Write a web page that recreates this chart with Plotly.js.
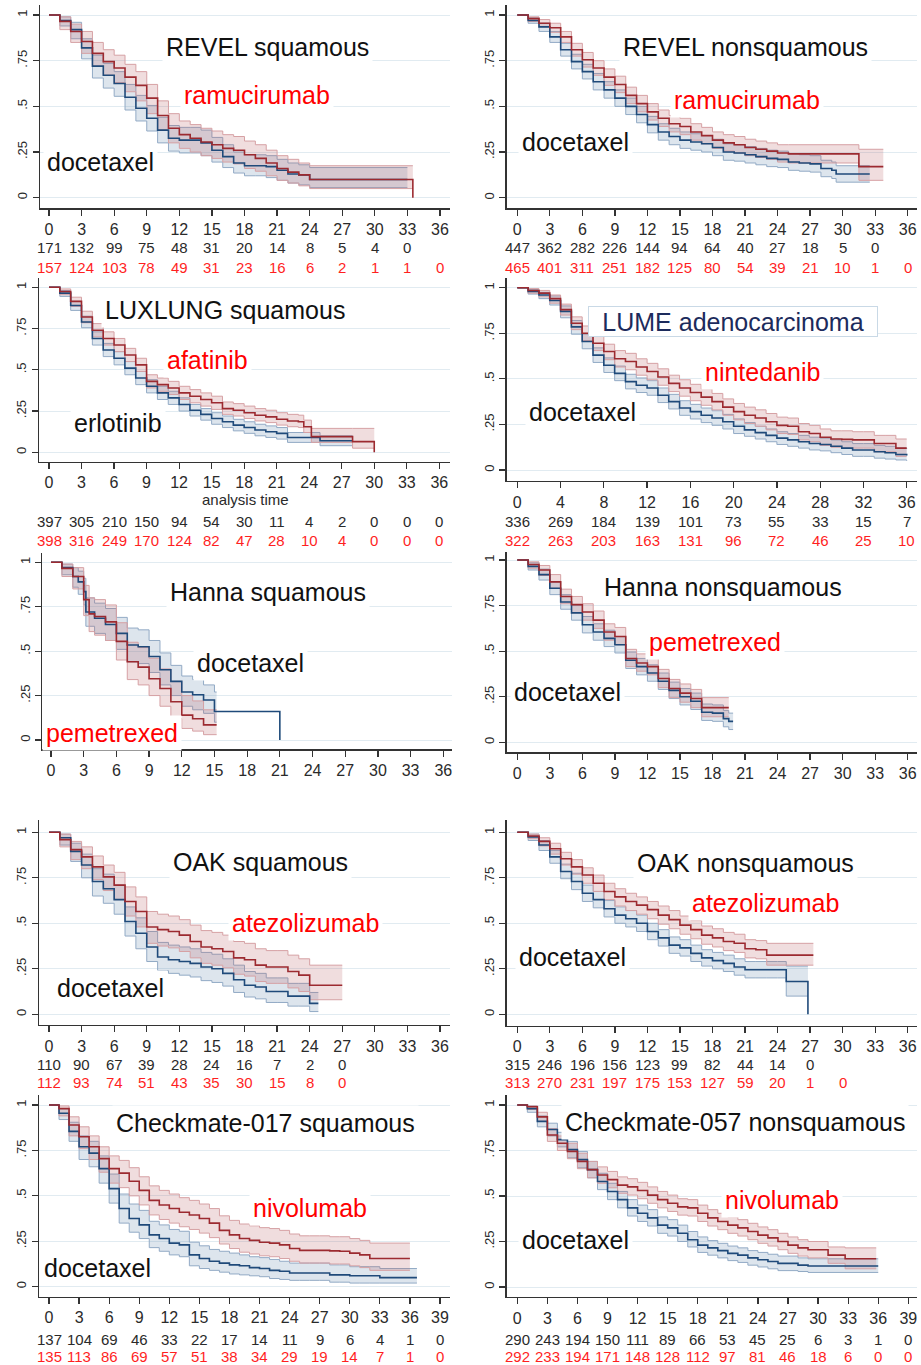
<!DOCTYPE html>
<html><head><meta charset="utf-8">
<script src="https://cdn.plot.ly/plotly-3.0.1.min.js"></script>
<style>html,body{margin:0;padding:0;background:#fff}#chart{width:921px;height:1365px}</style>
</head><body><div id="chart"></div>
<script>
// ---------- tick labels ----------
const ticksBy3to36 = [0,3,6,9,12,15,18,21,24,27,30,33,36];
const ticksBy4to36 = [0,4,8,12,16,20,24,28,32,36];
const ticksBy3to39 = [0,3,6,9,12,15,18,21,24,27,30,33,36,39];
const survTicks = [0,0.25,0.5,0.75,1];
const survTickText = ['0','.25','.5','.75','1'];

// ---------- REVEL squamous ----------
const revelSqDocT  = [0,1,2,3,4,5,6,7,8,9,10,11,12,13,14,15,16,17,18,19,20,21,22,23,24,33];
const revelSqDocS  = [1,.97,.92,.82,.72,.67,.625,.55,.49,.435,.37,.325,.315,.315,.30,.26,.225,.19,.175,.175,.17,.15,.13,.125,.10,.10];
const revelSqDocLo = [1,.94,.87,.76,.655,.60,.555,.48,.42,.365,.30,.255,.245,.245,.23,.195,.165,.135,.12,.12,.11,.095,.08,.07,.055,.055];
const revelSqDocHi = [1,.99,.96,.87,.78,.735,.69,.62,.56,.505,.44,.395,.385,.385,.37,.33,.29,.25,.235,.235,.23,.21,.19,.18,.165,.165];
const revelSqRamT  = [0,1,2,3,4,5,6,7,8,9,10,11,12,13,14,15,16,17,18,19,20,21,22,23,24,33.5];
const revelSqRamS  = [1,.965,.91,.855,.79,.745,.71,.66,.615,.545,.45,.38,.345,.325,.305,.29,.27,.26,.235,.215,.19,.16,.14,.125,.10,0];
const revelSqRamLo = [1,.92,.85,.79,.72,.67,.63,.58,.53,.46,.37,.30,.27,.25,.23,.215,.195,.185,.16,.145,.12,.095,.08,.065,.05,.05];
const revelSqRamHi = [1,.99,.95,.91,.85,.81,.78,.73,.69,.62,.53,.46,.42,.40,.38,.365,.345,.335,.31,.29,.26,.23,.21,.19,.175,.175];
const revelSqRiskDoc = [171,132,99,75,48,31,20,14,8,5,4,0];
const revelSqRiskRam = [157,124,103,78,49,31,23,16,6,2,1,1,0];

// ---------- REVEL nonsquamous ----------
const revelNsqDocT  = [0,1,2,3,4,5,6,7,8,9,10,11,12,13,14,15,16,17,18,19,20,21,22,23,24,25,26,27,28,29,29.4,32.5];
const revelNsqDocS  = [1,.97,.935,.88,.81,.745,.69,.635,.59,.545,.50,.455,.40,.36,.335,.315,.305,.295,.275,.25,.245,.235,.225,.215,.21,.195,.19,.185,.16,.15,.13,.13];
const revelNsqDocLo = [1,.955,.91,.85,.775,.705,.65,.59,.545,.50,.455,.41,.355,.315,.29,.27,.26,.25,.23,.205,.20,.19,.18,.17,.165,.15,.145,.14,.115,.105,.085,.085];
const revelNsqDocHi = [1,.985,.955,.91,.845,.785,.73,.68,.635,.59,.545,.50,.445,.405,.38,.36,.35,.34,.32,.295,.29,.28,.27,.26,.255,.24,.235,.23,.205,.195,.175,.175];
const revelNsqRamT  = [0,1,2,3,4,5,6,7,8,9,10,11,12,13,14,15,16,17,18,19,20,21,22,23,24,25,31.5,33.75];
const revelNsqRamS  = [1,.98,.955,.93,.88,.81,.755,.71,.66,.62,.56,.515,.47,.435,.405,.39,.36,.34,.315,.30,.29,.275,.265,.255,.245,.24,.17,.17];
const revelNsqRamLo = [1,.965,.935,.905,.85,.775,.715,.67,.615,.575,.515,.47,.425,.39,.36,.345,.315,.295,.27,.255,.245,.23,.22,.21,.195,.19,.095,.095];
const revelNsqRamHi = [1,.99,.975,.955,.91,.845,.795,.75,.705,.665,.605,.56,.515,.48,.45,.435,.405,.385,.36,.345,.335,.32,.31,.30,.29,.29,.265,.265];
const revelNsqRiskDoc = [447,362,282,226,144,94,64,40,27,18,5,0];
const revelNsqRiskRam = [465,401,311,251,182,125,80,54,39,21,10,1,0];

// ---------- LUXLUNG squamous ----------
const luxErlT  = [0,1,2,3,4,5,6,7,8,9,10,11,12,13,14,15,16,17,18,19,20,21,22,25,28];
const luxErlS  = [1,.965,.89,.79,.69,.62,.57,.51,.45,.40,.36,.33,.29,.255,.23,.205,.185,.165,.15,.135,.125,.115,.09,.07,.07];
const luxErlLo = [1,.945,.86,.755,.65,.58,.53,.47,.41,.36,.32,.29,.25,.22,.195,.17,.15,.13,.115,.10,.09,.08,.06,.04,.04];
const luxErlHi = [1,.98,.915,.825,.73,.66,.61,.55,.49,.44,.40,.37,.33,.29,.265,.24,.22,.20,.185,.17,.16,.15,.12,.10,.10];
const luxAfaT  = [0,1,2,3,4,5,6,7,8,9,10,11,12,13,14,15,16,17,18,19,20,21,22,23,23.5,24.2,28,30];
const luxAfaS  = [1,.975,.915,.82,.74,.69,.65,.59,.53,.43,.41,.39,.36,.34,.32,.30,.265,.255,.24,.225,.215,.20,.19,.185,.155,.095,.065,0];
const luxAfaLo = [1,.955,.885,.785,.70,.65,.61,.55,.49,.39,.37,.35,.32,.30,.28,.26,.23,.22,.205,.19,.18,.165,.155,.15,.12,.06,.025,.02];
const luxAfaHi = [1,.99,.94,.855,.78,.73,.69,.63,.57,.47,.45,.43,.40,.38,.36,.34,.305,.295,.28,.265,.255,.24,.23,.225,.195,.145,.145,.145];
const luxRiskErl = [397,305,210,150,94,54,30,11,4,2,0,0,0];
const luxRiskAfa = [398,316,249,170,124,82,47,28,10,4,0,0,0];

// ---------- LUME adenocarcinoma ----------
const lumeT     = [0,1,2,3,4,5,6,7,8,9,10,11,12,13,14,15,16,17,18,19,20,21,22,23,24,25,26,27,28,29,30,31,32,33,34,35,36];
const lumeDocS  = [1,.98,.96,.93,.87,.785,.705,.63,.575,.53,.485,.465,.45,.41,.375,.34,.32,.30,.285,.265,.24,.22,.205,.19,.175,.165,.155,.145,.14,.13,.12,.11,.11,.10,.095,.085,.08];
const lumeDocLo = [1,.965,.94,.905,.835,.745,.665,.59,.535,.49,.445,.425,.41,.37,.335,.30,.28,.26,.245,.225,.20,.185,.17,.155,.14,.13,.12,.11,.105,.095,.085,.075,.075,.065,.06,.055,.05];
const lumeDocHi = [1,.99,.975,.955,.90,.82,.745,.67,.615,.57,.525,.505,.49,.45,.415,.38,.36,.34,.325,.305,.28,.26,.24,.225,.21,.20,.19,.18,.175,.165,.155,.145,.145,.135,.13,.12,.115];
const lumeNinS  = [1,.985,.97,.94,.88,.805,.75,.695,.65,.61,.595,.565,.54,.51,.475,.45,.425,.40,.375,.345,.32,.30,.285,.265,.245,.24,.21,.20,.18,.17,.168,.165,.165,.145,.145,.12,.12];
const lumeNinLo = [1,.97,.95,.915,.85,.77,.71,.655,.605,.565,.55,.52,.495,.465,.43,.405,.38,.355,.33,.30,.275,.255,.24,.22,.20,.195,.165,.155,.135,.125,.12,.12,.12,.10,.10,.075,.075];
const lumeNinHi = [1,.995,.985,.96,.91,.84,.79,.735,.69,.655,.64,.61,.585,.555,.52,.495,.47,.445,.42,.39,.365,.345,.33,.31,.29,.285,.255,.245,.225,.215,.215,.21,.21,.19,.19,.17,.17];
const lumeRiskDoc = [336,269,184,139,101,73,55,33,15,7];
const lumeRiskNin = [322,263,203,163,131,96,72,46,25,10];

// ---------- Hanna squamous ----------
const hannaSqDocT   = [0,1,2,2.5,3,3.2,4,5,6,7,8,9,10,11,12,13,14,15,21];
const hannaSqDocS   = [1,.97,.92,.89,.835,.72,.685,.65,.60,.535,.525,.47,.395,.33,.27,.255,.225,.16,0];
const hannaSqDocCiT = [0,1,2,2.5,3,3.2,4,5,6,7,8,9,10,11,12,13,14,15,15.2];
const hannaSqDocLo  = [1,.93,.86,.82,.76,.64,.60,.56,.51,.44,.43,.38,.31,.25,.19,.17,.15,.10,.10];
const hannaSqDocHi  = [1,.99,.97,.95,.91,.80,.77,.74,.69,.63,.62,.56,.49,.42,.36,.34,.31,.27,.27];
const hannaSqPemT   = [0,1,2,3,3.5,4,5,6,7,8,9,10,11,12,13,14,15.2];
const hannaSqPemS   = [1,.966,.92,.79,.71,.695,.665,.555,.44,.41,.345,.29,.215,.14,.12,.085,.085];
const hannaSqPemLo  = [1,.92,.85,.70,.61,.59,.56,.45,.34,.31,.25,.19,.12,.065,.05,.03,.03];
const hannaSqPemHi  = [1,.99,.97,.87,.80,.79,.76,.66,.55,.52,.46,.40,.33,.25,.22,.17,.17];

// ---------- Hanna nonsquamous ----------
const hannaNsqDocT  = [0,1,2,3,4,5,6,7,8,9,10,11,12,13,14,15,16,17,18,19,19.5,19.9];
const hannaNsqDocS  = [1,.965,.92,.845,.77,.71,.645,.605,.57,.535,.45,.415,.38,.335,.285,.25,.225,.165,.16,.13,.115,.115];
const hannaNsqDocLo = [1,.945,.89,.81,.73,.67,.60,.56,.525,.49,.405,.37,.335,.29,.24,.205,.18,.12,.115,.085,.07,.07];
const hannaNsqDocHi = [1,.985,.95,.88,.81,.75,.69,.65,.615,.58,.495,.46,.425,.38,.33,.295,.27,.21,.205,.175,.16,.16];
const hannaNsqPemT  = [0,1,2,3,4,5,6,7,8,9,10,11,12,13,14,15,16,17,19.5];
const hannaNsqPemS  = [1,.975,.945,.88,.80,.755,.715,.67,.605,.58,.46,.435,.415,.35,.295,.27,.24,.19,.19];
const hannaNsqPemLo = [1,.955,.915,.845,.76,.71,.67,.625,.56,.535,.415,.39,.37,.30,.245,.22,.19,.14,.14];
const hannaNsqPemHi = [1,.99,.97,.92,.84,.80,.76,.72,.65,.63,.51,.485,.465,.40,.345,.32,.29,.245,.245];

// ---------- OAK squamous ----------
const oakSqDocT  = [0,1,2,3,4,5,6,7,8,9,10,11,12,13,14,15,16,17,18,19,20,21,22,23,24,24.8];
const oakSqDocS  = [1,.97,.895,.82,.73,.69,.63,.51,.445,.37,.315,.30,.29,.28,.26,.25,.225,.19,.16,.15,.125,.125,.10,.10,.06,.06];
const oakSqDocLo = [1,.93,.84,.75,.65,.61,.55,.43,.36,.29,.24,.225,.215,.205,.185,.175,.155,.12,.095,.085,.065,.065,.045,.045,.015,.015];
const oakSqDocHi = [1,.99,.94,.88,.80,.77,.71,.59,.53,.455,.395,.38,.37,.36,.34,.33,.305,.27,.235,.225,.20,.20,.17,.17,.12,.12];
const oakSqAtzT  = [0,1,2,3,4,5,6,7,8,9,10,11,12,13,14,15,16,17,18,19,20,21,22,23,24,27];
const oakSqAtzS  = [1,.96,.905,.865,.81,.755,.71,.62,.565,.48,.465,.455,.435,.40,.37,.36,.345,.31,.30,.27,.26,.26,.235,.215,.16,.16];
const oakSqAtzLo = [1,.92,.85,.80,.74,.68,.63,.54,.48,.39,.375,.365,.345,.31,.28,.27,.255,.22,.21,.18,.17,.17,.145,.125,.08,.08];
const oakSqAtzHi = [1,.99,.95,.92,.87,.82,.78,.70,.645,.565,.55,.54,.52,.49,.46,.45,.435,.40,.39,.36,.35,.35,.325,.305,.27,.27];
const oakSqRiskDoc = [110,90,67,39,28,24,16,7,2,0];
const oakSqRiskAtz = [112,93,74,51,43,35,30,15,8,0];

// ---------- OAK nonsquamous ----------
const oakNsqDocT  = [0,1,2,3,4,5,6,7,8,9,10,11,12,13,14,15,16,17,18,19,20,21,22,23,24,24.8,26.8];
const oakNsqDocS  = [1,.975,.93,.865,.785,.73,.665,.63,.58,.545,.525,.50,.455,.42,.38,.365,.335,.31,.295,.28,.26,.245,.245,.245,.245,.18,0];
const oakNsqDocLo = [1,.955,.90,.83,.745,.685,.62,.585,.535,.50,.48,.455,.41,.375,.335,.32,.29,.265,.25,.235,.215,.20,.20,.20,.20,.10,.10];
const oakNsqDocHi = [1,.99,.955,.90,.825,.775,.71,.675,.625,.59,.57,.545,.50,.465,.425,.41,.38,.355,.34,.325,.305,.29,.29,.29,.29,.265,.265];
const oakNsqAtzT  = [0,1,2,3,4,5,6,7,8,9,10,11,12,13,14,15,16,17,18,19,20,21,22,23,27.3];
const oakNsqAtzS  = [1,.98,.95,.91,.855,.81,.765,.72,.675,.645,.62,.60,.575,.545,.52,.49,.465,.435,.42,.40,.39,.36,.355,.325,.325];
const oakNsqAtzLo = [1,.965,.925,.88,.82,.77,.72,.675,.63,.595,.57,.55,.525,.495,.47,.44,.415,.385,.37,.35,.34,.31,.305,.27,.27];
const oakNsqAtzHi = [1,.99,.97,.94,.89,.85,.805,.765,.72,.69,.665,.645,.62,.595,.57,.54,.515,.485,.47,.45,.44,.41,.405,.39,.39];
const oakNsqRiskDoc = [315,246,196,156,123,99,82,44,14,0];
const oakNsqRiskAtz = [313,270,231,197,175,153,127,59,20,1,0];

// ---------- Checkmate-017 squamous ----------
const cm017DocT  = [0,1,2,3,4,5,6,7,8,9,10,11,12,13,14,15,16,17,18,19,20,21,22,23,24,25,26,27,28,29,30,31,32,33,36.7];
const cm017DocS  = [1,.955,.855,.77,.735,.65,.54,.43,.375,.34,.285,.265,.24,.23,.175,.155,.14,.13,.12,.115,.105,.10,.09,.085,.075,.075,.075,.075,.065,.065,.06,.06,.06,.05,.05];
const cm017DocLo = [1,.92,.80,.70,.66,.57,.46,.35,.30,.265,.215,.195,.175,.165,.115,.10,.09,.08,.07,.065,.06,.055,.045,.04,.035,.035,.035,.035,.025,.025,.02,.02,.02,.02,.02];
const cm017DocHi = [1,.98,.905,.83,.80,.72,.62,.51,.455,.42,.36,.34,.315,.305,.245,.225,.205,.195,.185,.175,.165,.16,.15,.14,.13,.13,.13,.13,.12,.12,.11,.11,.11,.10,.10];
const cm017NivT  = [0,1,2,3,4,5,6,7,8,9,10,11,12,13,14,15,16,17,18,19,20,21,22,23,24,25,26,27,28,29,30,31,32,36];
const cm017NivS  = [1,.98,.89,.825,.77,.705,.65,.625,.58,.53,.475,.45,.43,.41,.395,.375,.35,.31,.285,.265,.255,.245,.24,.23,.21,.20,.20,.20,.197,.195,.185,.175,.155,.155];
const cm017NivLo = [1,.94,.83,.76,.70,.63,.57,.545,.50,.45,.395,.37,.35,.33,.315,.295,.27,.235,.21,.19,.18,.17,.165,.155,.14,.13,.13,.13,.125,.125,.115,.105,.09,.09];
const cm017NivHi = [1,.995,.935,.88,.83,.77,.72,.695,.655,.605,.555,.53,.51,.49,.475,.455,.43,.39,.365,.345,.335,.325,.32,.31,.29,.28,.28,.28,.275,.275,.265,.255,.24,.24];
const cm017RiskDoc = [137,104,69,46,33,22,17,14,11,9,6,4,1,0];
const cm017RiskNiv = [135,113,86,69,57,51,38,34,29,19,14,7,1,0];

// ---------- Checkmate-057 nonsquamous ----------
const cm057DocT  = [0,1,2,3,4,5,6,7,8,9,10,11,12,13,14,15,16,17,18,19,20,21,22,23,24,25,26,27,28,29,36];
const cm057DocS  = [1,.98,.91,.865,.81,.755,.70,.645,.58,.525,.48,.435,.405,.38,.34,.325,.295,.26,.23,.215,.20,.185,.175,.16,.15,.14,.13,.13,.12,.115,.115];
const cm057DocLo = [1,.96,.88,.83,.77,.71,.655,.60,.535,.48,.435,.39,.36,.335,.295,.28,.25,.22,.19,.175,.16,.145,.135,.12,.11,.10,.09,.09,.085,.08,.08];
const cm057DocHi = [1,.995,.94,.90,.85,.80,.745,.69,.625,.57,.525,.48,.45,.425,.385,.37,.34,.305,.275,.255,.24,.225,.215,.20,.19,.18,.17,.17,.16,.155,.155];
const cm057NivT  = [0,1,2,3,4,5,6,7,8,9,10,11,12,13,14,15,16,17,18,19,20,21,22,23,24,25,26,27,28,29,30,31,32,32.7,35.8];
const cm057NivS  = [1,.99,.935,.835,.79,.745,.69,.645,.615,.59,.56,.55,.53,.505,.48,.46,.44,.435,.405,.38,.36,.34,.325,.305,.285,.27,.25,.23,.215,.205,.205,.175,.175,.155,.155];
const cm057NivLo = [1,.975,.91,.80,.75,.705,.65,.60,.57,.545,.515,.505,.485,.46,.435,.415,.395,.39,.36,.335,.315,.295,.28,.26,.24,.225,.205,.185,.17,.16,.16,.13,.13,.10,.10];
const cm057NivHi = [1,.995,.96,.87,.83,.79,.735,.69,.66,.635,.605,.595,.575,.55,.525,.505,.485,.48,.45,.425,.405,.385,.37,.35,.33,.315,.295,.275,.26,.25,.25,.22,.22,.215,.215];
const cm057RiskDoc = [290,243,194,150,111,89,66,53,45,25,6,3,1,0];
const cm057RiskNiv = [292,233,194,171,148,128,112,97,81,46,18,6,0,0];

// ---------- styling ----------
const W = 921, H = 1365;
const FONT = 'Liberation Sans, Arial, sans-serif';
const RED = '#9c2a30', RED_CI = '#d6a1a4', RED_FILL = 'rgba(185,100,105,0.22)';
const BLUE = '#1f4a7a', BLUE_CI = '#92aac5', BLUE_FILL = 'rgba(100,135,175,0.22)';
const TXT = '#111111', TXT_RED = '#ff0000', TICK = '#2a2a2a', RISK_RED = '#ff1f1f';
const TICK_SIZE = 16, RISK_SIZE = 15;

const panels = [
  { box:[40,450,5,208.3], xcal:[49,440,0,36], ycal:[197.7,15], ticks:ticksBy3to36,
    doc:{t:revelSqDocT,s:revelSqDocS,lo:revelSqDocLo,hi:revelSqDocHi},
    exp:{t:revelSqRamT,s:revelSqRamS,lo:revelSqRamLo,hi:revelSqRamHi},
    risk:{doc:revelSqRiskDoc,exp:revelSqRiskRam,yDoc:247,yExp:267.5},
    labels:[['REVEL squamous',267,47,TXT],['ramucirumab',257,95,TXT_RED],['docetaxel',100,162,TXT]] },
  { box:[506.7,917,5,208.3], xcal:[517.3,907.7,0,36], ycal:[197.7,15], ticks:ticksBy3to36,
    doc:{t:revelNsqDocT,s:revelNsqDocS,lo:revelNsqDocLo,hi:revelNsqDocHi},
    exp:{t:revelNsqRamT,s:revelNsqRamS,lo:revelNsqRamLo,hi:revelNsqRamHi},
    risk:{doc:revelNsqRiskDoc,exp:revelNsqRiskRam,yDoc:247,yExp:267.5},
    labels:[['REVEL nonsquamous',745,47,TXT],['ramucirumab',747,100,TXT_RED],['docetaxel',575,142,TXT]] },
  { box:[39,450,278,461.7], xcal:[49,439.3,0,36], ycal:[452.3,287.3], ticks:ticksBy3to36,
    doc:{t:luxErlT,s:luxErlS,lo:luxErlLo,hi:luxErlHi},
    exp:{t:luxAfaT,s:luxAfaS,lo:luxAfaLo,hi:luxAfaHi},
    risk:{doc:luxRiskErl,exp:luxRiskAfa,yDoc:521,yExp:540.5},
    labels:[['LUXLUNG squamous',225,310,TXT],['afatinib',207,360,TXT_RED],['erlotinib',118,423,TXT]],
    xtitle:['analysis time',245,499.5] },
  { box:[506.7,917,278,481], xcal:[517.3,906.7,0,36], ycal:[470,287.7], ticks:ticksBy4to36,
    doc:{t:lumeT,s:lumeDocS,lo:lumeDocLo,hi:lumeDocHi},
    exp:{t:lumeT,s:lumeNinS,lo:lumeNinLo,hi:lumeNinHi},
    risk:{doc:lumeRiskDoc,exp:lumeRiskNin,yDoc:521,yExp:540.5},
    labels:[['LUME adenocarcinoma',733,321,'#1c2b5c','box'],['nintedanib',762,372,TXT_RED],['docetaxel',582,412,TXT]] },
  { box:[42.3,452,553,749.3], xcal:[51,443.3,0,36], ycal:[740,562.3], ticks:ticksBy3to36,
    doc:{t:hannaSqDocT,s:hannaSqDocS,ciT:hannaSqDocCiT,lo:hannaSqDocLo,hi:hannaSqDocHi},
    exp:{t:hannaSqPemT,s:hannaSqPemS,lo:hannaSqPemLo,hi:hannaSqPemHi},
    labels:[['Hanna squamous',268,592,TXT],['docetaxel',250,663,TXT],['pemetrexed',112,733,TXT_RED]] },
  { box:[506.7,917,551.7,752.3], xcal:[517.3,907.7,0,36], ycal:[742.3,560], ticks:ticksBy3to36,
    doc:{t:hannaNsqDocT,s:hannaNsqDocS,lo:hannaNsqDocLo,hi:hannaNsqDocHi},
    exp:{t:hannaNsqPemT,s:hannaNsqPemS,lo:hannaNsqPemLo,hi:hannaNsqPemHi},
    labels:[['Hanna nonsquamous',723,587,TXT],['pemetrexed',715,642,TXT_RED],['docetaxel',567,692,TXT]] },
  { box:[39,450,820,1025], xcal:[49,440,0,36], ycal:[1014.3,832.3], ticks:ticksBy3to36,
    doc:{t:oakSqDocT,s:oakSqDocS,lo:oakSqDocLo,hi:oakSqDocHi},
    exp:{t:oakSqAtzT,s:oakSqAtzS,lo:oakSqAtzLo,hi:oakSqAtzHi},
    risk:{doc:oakSqRiskDoc,exp:oakSqRiskAtz,yDoc:1064.5,yExp:1082.5},
    labels:[['OAK squamous',260,862,TXT],['atezolizumab',305,923,TXT_RED],['docetaxel',110,988,TXT]] },
  { box:[506.7,917,820,1025.7], xcal:[517.3,907.7,0,36], ycal:[1014.3,832.3], ticks:ticksBy3to36,
    doc:{t:oakNsqDocT,s:oakNsqDocS,lo:oakNsqDocLo,hi:oakNsqDocHi},
    exp:{t:oakNsqAtzT,s:oakNsqAtzS,lo:oakNsqAtzLo,hi:oakNsqAtzHi},
    risk:{doc:oakNsqRiskDoc,exp:oakNsqRiskAtz,yDoc:1064.5,yExp:1082.5},
    labels:[['OAK nonsquamous',745,863,TXT],['atezolizumab',765,903,TXT_RED],['docetaxel',572,957,TXT]] },
  { box:[39,450,1095,1296.7], xcal:[49,440,0,39], ycal:[1286.7,1105], ticks:ticksBy3to39,
    doc:{t:cm017DocT,s:cm017DocS,lo:cm017DocLo,hi:cm017DocHi},
    exp:{t:cm017NivT,s:cm017NivS,lo:cm017NivLo,hi:cm017NivHi},
    risk:{doc:cm017RiskDoc,exp:cm017RiskNiv,yDoc:1339,yExp:1356.5},
    labels:[['Checkmate-017 squamous',265,1123,TXT],['nivolumab',310,1208,TXT_RED],['docetaxel',97,1268,TXT]] },
  { box:[506.7,917,1095,1297], xcal:[517.3,908.3,0,39], ycal:[1287,1105], ticks:ticksBy3to39,
    doc:{t:cm057DocT,s:cm057DocS,lo:cm057DocLo,hi:cm057DocHi},
    exp:{t:cm057NivT,s:cm057NivS,lo:cm057NivLo,hi:cm057NivHi},
    risk:{doc:cm057RiskDoc,exp:cm057RiskNiv,yDoc:1339,yExp:1356.5},
    labels:[['Checkmate-057 nonsquamous',735,1122,TXT],['nivolumab',782,1200,TXT_RED],['docetaxel',575,1240,TXT]] }
];

const traces = [];
const annotations = [];
const layout = {
  width: W, height: H, margin:{l:0,r:0,t:0,b:0},
  paper_bgcolor:'#ffffff', plot_bgcolor:'#ffffff',
  showlegend:false, font:{family:FONT, color:TICK},
  annotations: annotations
};

function band(arm, xa, ya, edge, fill){
  const ct = arm.ciT || arm.t;
  traces.push({type:'scatter', mode:'lines', x:ct, y:arm.lo, xaxis:xa, yaxis:ya,
    line:{shape:'hv', color:edge, width:1}, hoverinfo:'skip'});
  traces.push({type:'scatter', mode:'lines', x:ct, y:arm.hi, xaxis:xa, yaxis:ya,
    line:{shape:'hv', color:edge, width:1}, fill:'tonexty', fillcolor:fill, hoverinfo:'skip'});
}
function curve(arm, xa, ya, color){
  traces.push({type:'scatter', mode:'lines', x:arm.t, y:arm.s, xaxis:xa, yaxis:ya,
    line:{shape:'hv', color:color, width:1.6}, hoverinfo:'skip'});
}

panels.forEach((p, i) => {
  const n = i + 1, suf = n === 1 ? '' : String(n);
  const xa = 'x' + suf, ya = 'y' + suf;
  const [l, r, t, b] = p.box;
  const [xp0, xp1, xv0, xv1] = p.xcal;
  const ppx = (xp1 - xp0) / (xv1 - xv0);
  const xr = [xv0 - (xp0 - l) / ppx, xv0 + (r - xp0) / ppx];
  const [yp0, yp1] = p.ycal;
  const ppy = yp0 - yp1;
  const yr = [-(b - yp0) / ppy, 1 + (yp1 - t) / ppy];

  layout['xaxis' + suf] = {
    domain:[l / W, r / W], range:xr, anchor:ya,
    tickmode:'array', tickvals:p.ticks, ticktext:p.ticks.map(String),
    ticks:'outside', ticklen:6, tickwidth:1.2, tickcolor:'#333',
    showline:true, linecolor:'#333', linewidth:1.4,
    showgrid:false, zeroline:false,
    tickfont:{size:TICK_SIZE, color:TICK, family:FONT}, fixedrange:true
  };
  layout['yaxis' + suf] = {
    domain:[1 - b / H, 1 - t / H], range:yr, anchor:xa,
    tickmode:'array', tickvals:survTicks, ticktext:survTickText, tickangle:-90,
    ticks:'outside', ticklen:6, tickwidth:1.2, tickcolor:'#333',
    showline:true, linecolor:'#333', linewidth:1.4,
    showgrid:true, gridcolor:'#e1ebf1', gridwidth:1, zeroline:false,
    tickfont:{size:13, color:TICK, family:FONT}, fixedrange:true
  };

  band(p.doc, xa, ya, BLUE_CI, BLUE_FILL);
  band(p.exp, xa, ya, RED_CI, RED_FILL);
  curve(p.doc, xa, ya, BLUE);
  curve(p.exp, xa, ya, RED);

  p.labels.forEach(([txt, px, py, col, style]) => {
    const a = {xref:'paper', yref:'paper', x:px / W, y:1 - py / H, text:txt, showarrow:false,
      xanchor:'center', yanchor:'middle', font:{size:25, color:col, family:FONT},
      bgcolor:'#ffffff', borderpad:3};
    if (style === 'box') { a.bordercolor = '#c9d9e6'; a.borderwidth = 1; a.width = 286; a.height = 27; a.borderpad = 1; }
    annotations.push(a);
  });

  if (p.xtitle) {
    annotations.push({xref:'paper', yref:'paper', x:p.xtitle[1] / W, y:1 - p.xtitle[2] / H,
      text:p.xtitle[0], showarrow:false, xanchor:'center', yanchor:'middle',
      font:{size:15, color:TICK, family:FONT}});
  }

  if (p.risk) {
    const rows = [[p.risk.doc, p.risk.yDoc, TICK], [p.risk.exp, p.risk.yExp, RISK_RED]];
    rows.forEach(([vals, ypx, col]) => {
      vals.forEach((v, j) => {
        annotations.push({xref:xa, yref:'paper', x:p.ticks[j], y:1 - ypx / H, text:String(v),
          showarrow:false, xanchor:'center', yanchor:'middle', borderpad:0,
          font:{size:RISK_SIZE, color:col, family:FONT}});
      });
    });
  }
});

Plotly.newPlot('chart', traces, layout, {staticPlot:true, displayModeBar:false});
</script>
</body></html>
